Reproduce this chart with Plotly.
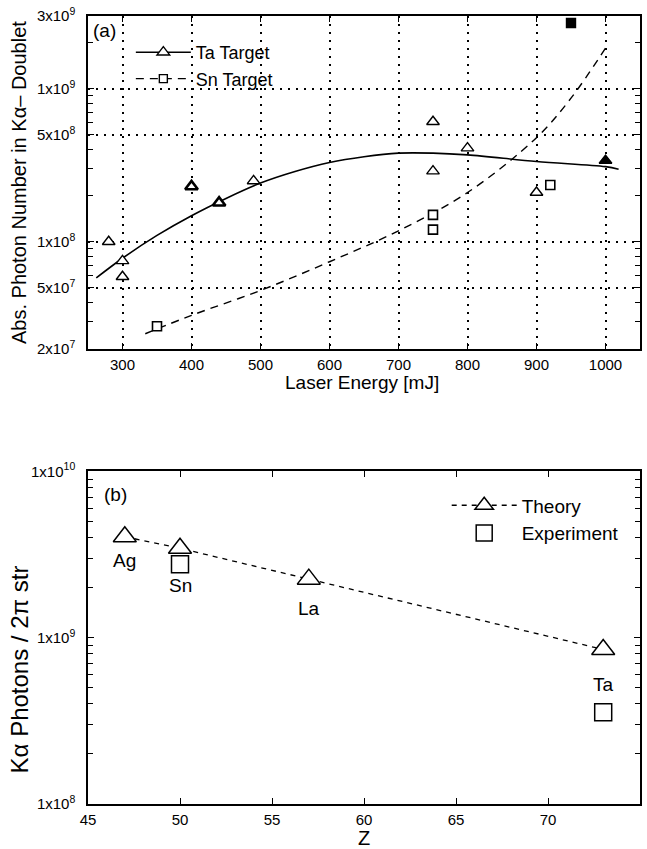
import math
import plotly.graph_objects as go

# ---------------- data: panel (a) ----------------
ta_energy = [280, 300, 300, 400, 440, 490, 750, 750, 800, 900]
ta_photons = [1.0e8, 7.5e7, 5.9e7, 2.3e8, 1.8e8, 2.5e8, 6.1e8, 2.9e8, 4.1e8, 2.1e8]
ta_bold = [False, False, False, True, True, False, False, False, False, False]
ta_filled_energy = [1000]
ta_filled_photons = [3.4e8]

sn_energy = [350, 750, 750, 920]
sn_photons = [2.8e7, 1.5e8, 1.2e8, 2.35e8]
sn_filled_energy = [950]
sn_filled_photons = [2.7e9]

ta_fit_energy = [262, 300, 350, 400, 450, 500, 550, 600, 650, 700, 750, 800, 900, 1000, 1019]
ta_fit_photons = [5.8e7, 7.8e7, 1.1e8, 1.48e8, 1.92e8, 2.42e8, 2.88e8, 3.3e8, 3.6e8, 3.8e8,
                  3.8e8, 3.7e8, 3.35e8, 3.1e8, 2.98e8]

sn_fit_energy = [333, 400, 500, 600, 700, 800, 900, 950, 1000]
sn_fit_photons = [2.5e7, 3.3e7, 4.8e7, 7.4e7, 1.18e8, 2.1e8, 4.8e8, 8.7e8, 1.85e9]

a_xticks = [300, 400, 500, 600, 700, 800, 900, 1000]
a_yticks = [2e7, 5e7, 1e8, 5e8, 1e9, 3e9]
a_yticktext = ["2x10<sup>7</sup>", "5x10<sup>7</sup>", "1x10<sup>8</sup>",
               "5x10<sup>8</sup>", "1x10<sup>9</sup>", "3x10<sup>9</sup>"]
a_yminor = [3e7, 4e7, 6e7, 7e7, 8e7, 9e7, 2e8, 3e8, 4e8, 6e8, 7e8, 8e8, 9e8, 2e9]

# ---------------- data: panel (b) ----------------
z_theory = [47, 50, 57, 73]
theory = [4.05e9, 3.45e9, 2.25e9, 8.5e8]
element = ["Ag", "Sn", "La", "Ta"]
label_shift = [-24, -37, -29, -35]
z_exp = [50, 73]
experiment = [2.77e9, 3.56e8]

b_xticks = [45, 50, 55, 60, 65, 70, 75]
b_yticks = [1e8, 1e9, 1e10]
b_yticktext = ["1x10<sup>8</sup>", "1x10<sup>9</sup>", "1x10<sup>10</sup>"]
b_yminor = [2e8, 3e8, 4e8, 5e8, 6e8, 7e8, 8e8, 9e8, 2e9, 3e9, 4e9, 5e9, 6e9, 7e9, 8e9, 9e9]

FONT = "Liberation Sans, Arial, Helvetica, sans-serif"
BLACK = "black"

fig = go.Figure()

# ---- panel (a) traces ----
fig.add_trace(go.Scatter(x=ta_fit_energy, y=ta_fit_photons, mode="lines", line_shape="spline",
                         line=dict(color=BLACK, width=1.6), showlegend=False,
                         xaxis="x", yaxis="y"))
fig.add_trace(go.Scatter(x=sn_fit_energy, y=sn_fit_photons, mode="lines", line_shape="spline",
                         line=dict(color=BLACK, width=1.4, dash="8px,6px"), showlegend=False,
                         xaxis="x", yaxis="y"))
fig.add_trace(go.Scatter(x=ta_energy, y=ta_photons, mode="markers",
                         marker=dict(symbol="triangle-up", size=11, color="white",
                                     line=dict(color=BLACK, width=[2.6 if b else 1.4 for b in ta_bold])),
                         showlegend=False, xaxis="x", yaxis="y"))
fig.add_trace(go.Scatter(x=ta_filled_energy, y=ta_filled_photons, mode="markers",
                         marker=dict(symbol="triangle-up", size=11, color=BLACK,
                                     line=dict(color=BLACK, width=1.4)),
                         showlegend=False, xaxis="x", yaxis="y"))
fig.add_trace(go.Scatter(x=sn_energy, y=sn_photons, mode="markers",
                         marker=dict(symbol="square", size=9, color="white",
                                     line=dict(color=BLACK, width=1.6)),
                         showlegend=False, xaxis="x", yaxis="y"))
fig.add_trace(go.Scatter(x=sn_filled_energy, y=sn_filled_photons, mode="markers",
                         marker=dict(symbol="square", size=9, color=BLACK,
                                     line=dict(color=BLACK, width=1.4)),
                         showlegend=False, xaxis="x", yaxis="y", cliponaxis=False))
# legend entries for panel (a)
fig.add_trace(go.Scatter(x=[None], y=[None], mode="lines+markers", name="Ta Target",
                         line=dict(color=BLACK, width=1.6),
                         marker=dict(symbol="triangle-up", size=11, color="white",
                                     line=dict(color=BLACK, width=1.4)),
                         legend="legend", xaxis="x", yaxis="y"))
fig.add_trace(go.Scatter(x=[None], y=[None], mode="lines+markers", name="Sn Target",
                         line=dict(color=BLACK, width=1.4, dash="8px,6px"),
                         marker=dict(symbol="square", size=8, color="white",
                                     line=dict(color=BLACK, width=1.4)),
                         legend="legend", xaxis="x", yaxis="y"))

# ---- panel (b) traces ----
fig.add_trace(go.Scatter(x=z_theory, y=theory, mode="lines+markers", name="Theory",
                         line=dict(color=BLACK, width=1.3, dash="5px,5px"),
                         marker=dict(symbol="triangle-up", size=20, color="white",
                                     line=dict(color=BLACK, width=1.5)),
                         legend="legend2", xaxis="x2", yaxis="y2"))
fig.add_trace(go.Scatter(x=z_exp, y=experiment, mode="markers", name="Experiment",
                         marker=dict(symbol="square", size=17, color="white",
                                     line=dict(color=BLACK, width=1.5)),
                         legend="legend2", xaxis="x2", yaxis="y2"))

# element labels (annotation y on a log axis is given in log10 units)
for z, v, name, sh in zip(z_theory, theory, element, label_shift):
    fig.add_annotation(x=z, y=math.log10(v), xref="x2", yref="y2",
                       xanchor="center", yanchor="middle",
                       text=name, showarrow=False, yshift=sh,
                       font=dict(size=19, family=FONT, color=BLACK))

# ---- layout ----
L, R, T, B = 88, 5, 16, 44
W, H = 647, 849
PW, PH = W - L - R, H - T - B


def px(x):
    return (x - L) / PW


def py(y):
    return (H - B - y) / PH


axis_common = dict(showline=True, linecolor=BLACK, linewidth=1.5, mirror="ticks",
                   ticks="inside", ticklen=6, tickwidth=1.3, tickcolor=BLACK,
                   tickfont=dict(size=15, family=FONT, color=BLACK), zeroline=False)

fig.update_layout(
    width=W, height=H,
    margin=dict(l=L, r=R, t=T, b=B),
    paper_bgcolor="white", plot_bgcolor="white",
    font=dict(family=FONT, color=BLACK),
    xaxis=dict(domain=[0, 1], anchor="y", range=[250, 1050], tickmode="array",
               tickvals=a_xticks, showgrid=True, gridcolor=BLACK, gridwidth=1.5,
               griddash="1.5px,6.5px", ticklabelstandoff=2, **axis_common),
    yaxis=dict(domain=[py(349), 1], anchor="x", type="log",
               range=[7.30103, 9.4771213], tickmode="array",
               tickvals=a_yticks, ticktext=a_yticktext, ticklabelstandoff=8,
               showgrid=True, gridcolor=BLACK, gridwidth=1.5, griddash="1.5px,6.5px",
               minor=dict(tickmode="array", tickvals=a_yminor, ticks="inside",
                          ticklen=5, tickwidth=1.2, tickcolor=BLACK, showgrid=False),
               **axis_common),
    xaxis2=dict(domain=[0, 1], anchor="y2", range=[45, 75], tickmode="array",
                tickvals=b_xticks, showgrid=False, ticklabelstandoff=1,
                title=dict(text="Z", standoff=2, font=dict(size=20, family=FONT, color=BLACK)),
                **axis_common),
    yaxis2=dict(domain=[0, py(472)], anchor="x2", type="log", range=[8, 10],
                tickmode="array", tickvals=b_yticks, ticktext=b_yticktext, showgrid=False,
                ticklabelstandoff=8,
                minor=dict(tickmode="array", tickvals=b_yminor, ticks="inside",
                           ticklen=5, tickwidth=1.2, tickcolor=BLACK, showgrid=False),
                **axis_common),
    legend=dict(x=px(131), y=py(34), xanchor="left", yanchor="top",
                bgcolor="rgba(0,0,0,0)", borderwidth=0, itemwidth=55,
                font=dict(size=18, family=FONT, color=BLACK), tracegroupgap=0),
    legend2=dict(x=px(448), y=py(487), xanchor="left", yanchor="top",
                 bgcolor="rgba(0,0,0,0)", borderwidth=0, itemwidth=65,
                 font=dict(size=19, family=FONT, color=BLACK), tracegroupgap=0),
)

# panel labels and axis titles
ann_font = dict(family=FONT, color=BLACK)
common_ann = dict(xref="paper", yref="paper", xanchor="center", yanchor="middle",
                  showarrow=False)
fig.add_annotation(x=px(105), y=py(31), text="(a)", font=dict(size=19, **ann_font), **common_ann)
fig.add_annotation(x=px(116), y=py(495), text="(b)", font=dict(size=19, **ann_font), **common_ann)
fig.add_annotation(x=px(363), y=py(383), text="Laser Energy [mJ]",
                   font=dict(size=19, **ann_font), **common_ann)
fig.add_annotation(x=px(19), y=py(183), textangle=-90,
                   text="Abs. Photon Number in Kα– Doublet",
                   font=dict(size=20, **ann_font), **common_ann)
fig.add_annotation(x=px(19), y=py(670), textangle=-90, text="Kα Photons / 2π str",
                   font=dict(size=24, **ann_font), **common_ann)

# remove the default 8px page margin so the figure sits at the window origin
fig.write_html("out.html", config={"displayModeBar": False},
               post_script="document.body.style.margin='0';document.body.style.overflow='hidden';")
